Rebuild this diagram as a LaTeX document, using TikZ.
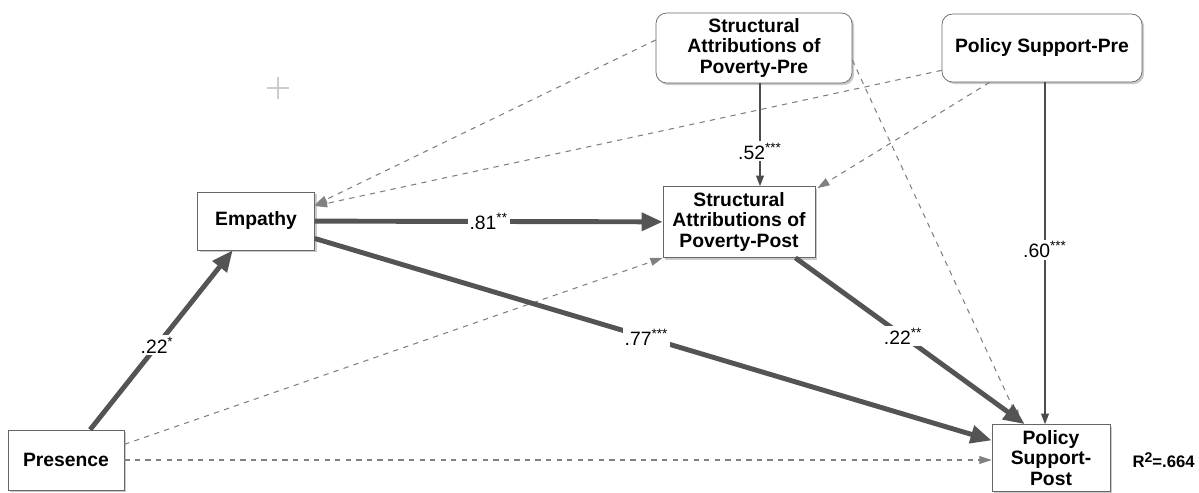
\documentclass[tikz,border=0pt]{standalone}
\usepackage{fontspec}
\setmainfont{Liberation Sans}
\usetikzlibrary{arrows.meta,shadows,calc}

\begin{document}
\begin{tikzpicture}[x=0.02cm, y=-0.02cm,
    box/.style={draw=black!60, fill=white, inner sep=0pt, align=center,
        font=\fontsize{11}{11.5}\selectfont\bfseries,
        drop shadow={shadow xshift=1.2pt, shadow yshift=-1.2pt, fill=black!35, opacity=.6}},
    prebox/.style={box, rounded corners=6pt},
    strong/.style={line width=2.8pt, draw=black!67, -{Triangle[length=12pt,width=10pt]}},
    weak/.style={line width=0.6pt, draw=black!70, -{Triangle[length=6pt,width=4.5pt]}},
    ctrl/.style={line width=0.6pt, draw=black!50, dashed, -{Triangle[length=7pt,width=4.5pt]}},
    coef/.style={fill=white, inner sep=1pt, font=\fontsize{11}{12}\selectfont}]
    \useasboundingbox (0,0) rectangle (1199,493);

    % Creu de fons
    \draw[black!20, line width=0.8pt] (267,88) -- (289,88) (278,77) -- (278,99);

    % Caixes
    \node[box, minimum width=2.32cm, minimum height=1.2cm] (pres) at (66,460) {Presence};
    \node[box, minimum width=2.34cm, minimum height=1.16cm] (emp) at (256,221) {Empathy};
    \node[box, minimum width=3.04cm, minimum height=1.42cm] (sapost) at (739,222)
        {Structural\\Attributions of\\Poverty-Post};
    \node[prebox, minimum width=3.92cm, minimum height=1.4cm] (sappre) at (754,48)
        {Structural\\Attributions of\\Poverty-Pre};
    \node[prebox, minimum width=4cm, minimum height=1.36cm] (pspre) at (1042,48)
        {Policy Support-Pre};
    \node[box, minimum width=2.36cm, minimum height=1.34cm] (pspost) at (1051,458)
        {Policy\\Support-\\Post};
    \node[anchor=east, inner sep=0pt, font=\fontsize{9.5}{11}\selectfont\bfseries] (r2) at (1195,460)
        {R\raisebox{.55ex}{\fontsize{8}{8}\selectfont 2}=.664};

    % Controls (discontinus)
    \draw[ctrl] (pres.east) -- (pres.east -| pspost.west);
    \draw[ctrl] (pres.15) -- (sapost.south west);
    \draw[ctrl] ($(sappre.west)+(0,-8)$) -- ($(emp.east)+(0,-16)$);
    \draw[ctrl] ($(pspre.south west)+(0,-12)$) -- ($(emp.east)+(0,-15)$);
    \draw[ctrl] ($(sappre.east)+(0,12)$) -- ($(pspost.north west)+(28,-2)$);
    \draw[ctrl] ($(pspre.south west)+(48,0)$) -- ($(sapost.north east)+(2,2)$);

    % Camins principals
    \draw[strong] (pres) -- node[coef, pos=.47] {.22\textsuperscript{*}} (emp);
    \draw[strong] (emp) -- node[coef] {.81\textsuperscript{**}} (sapost);
    \draw[strong] (emp) -- node[coef, pos=.49] {.77\textsuperscript{***}} (pspost);
    \draw[strong] ($(sapost.south east)+(-20,0)$) -- node[coef, pos=.47] {.22\textsuperscript{**}}
        ($(pspost.north west)+(33,0)$);

    % Estabilitat
    \draw[weak] ($(sappre.south)+(6,0)$) -- node[coef, pos=.66] {.52\textsuperscript{***}}
        ($(sapost.north)+(21,0)$);
    \draw[weak] ($(pspre.south)+(3,0)$) -- node[coef, pos=.49] {.60\textsuperscript{***}}
        ($(pspost.north)+(-6,0)$);
\end{tikzpicture}
\end{document}
